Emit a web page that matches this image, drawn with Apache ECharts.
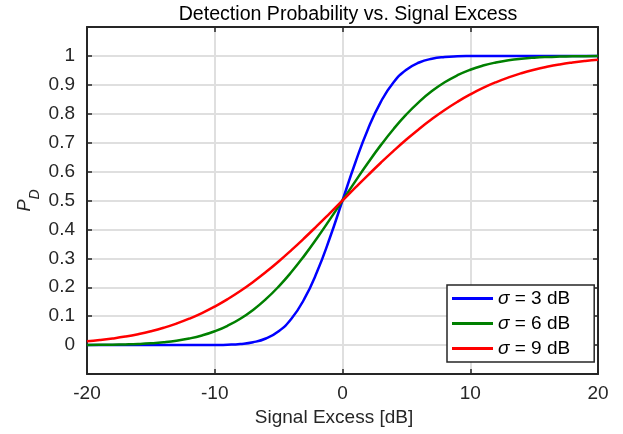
<!DOCTYPE html>
<html>
<head>
<meta charset="utf-8">
<script src="https://cdn.jsdelivr.net/npm/echarts@6/dist/echarts.min.js"></script>
<style>html,body{margin:0;padding:0;background:#fff}#c{width:623px;height:434px}</style>
</head>
<body>
<div id="c"></div>
<script>
// Signal excess [dB], -20..20 step 1
const signalExcess = [-20,-19,-18,-17,-16,-15,-14,-13,-12,-11,-10,-9,-8,-7,-6,-5,-4,-3,-2,-1,0,1,2,3,4,5,6,7,8,9,10,11,12,13,14,15,16,17,18,19,20];
const pdSigma3 = [0,0,0,0,0,0,0,0,0,0.0001,0.0004,0.0013,0.0038,0.0098,0.0228,0.0478,0.0912,0.1587,0.2525,0.3694,0.5,0.6306,0.7475,0.8413,0.9088,0.9522,0.9772,0.9902,0.9962,0.9987,0.9996,0.9999,1,1,1,1,1,1,1,1,1];
const pdSigma6 = [0.0004,0.0008,0.0013,0.0023,0.0038,0.0062,0.0098,0.0151,0.0228,0.0334,0.0478,0.0668,0.0912,0.1217,0.1587,0.2023,0.2525,0.3085,0.3694,0.4338,0.5,0.5662,0.6306,0.6915,0.7475,0.7977,0.8413,0.8783,0.9088,0.9332,0.9522,0.9666,0.9772,0.9849,0.9902,0.9938,0.9962,0.9977,0.9987,0.9992,0.9996];
const pdSigma9 = [0.0131,0.0174,0.0228,0.0294,0.0377,0.0478,0.0599,0.0743,0.0912,0.1108,0.1333,0.1587,0.1870,0.2184,0.2525,0.2893,0.3284,0.3694,0.4121,0.4558,0.5,0.5442,0.5879,0.6306,0.6716,0.7107,0.7475,0.7816,0.8130,0.8413,0.8667,0.8892,0.9088,0.9257,0.9401,0.9522,0.9623,0.9706,0.9772,0.9826,0.9869];
const seriesNames = ['σ = 3 dB','σ = 6 dB','σ = 9 dB'];
const seriesColors = ['#0000ff','#008000','#ff0000'];
const xTicks = [-20,-10,0,10,20];
const yTickLabels = ['0','0.1','0.2','0.3','0.4','0.5','0.6','0.7','0.8','0.9','1'];

const FONT = '"Liberation Sans", Helvetica, Arial, sans-serif';
const AX = '#262626';
const FS = 19;
const chart = echarts.init(document.getElementById('c'));
const allData = [pdSigma3, pdSigma6, pdSigma9];
const series = allData.map((d, i) => ({
  name: seriesNames[i],
  type: 'line',
  data: signalExcess.map((x, k) => [x, d[k]]),
  symbol: 'none',
  smooth: 0.5,
  lineStyle: {color: seriesColors[i], width: 2.5},
  itemStyle: {color: seriesColors[i]},
  z: 3
}));
const commonAxisLine = {show: true, onZero: false, lineStyle: {color: AX, width: 2}};
const ticksIn = {show: true, inside: true, length: 5, lineStyle: {color: AX, width: 1.5}};
chart.setOption({
  animation: false,
  backgroundColor: '#fff',
  textStyle: {fontFamily: FONT},
  title: {
    text: 'Detection Probability vs. Signal Excess',
    left: 343, top: 0, textAlign: 'center',
    textStyle: {fontFamily: FONT, fontSize: 19.6, fontWeight: 'normal', color: '#000'}
  },
  grid: {left: 87, right: 25, top: 27, bottom: 60, containLabel: false},
  legend: {
    orient: 'vertical', left: 447, top: 285,
    padding: [4, 24, 4, 5], itemGap: 6, itemWidth: 41, itemHeight: 3,
    icon: 'rect',
    backgroundColor: '#fff', borderColor: AX, borderWidth: 1.5,
    data: seriesNames,
    formatter: n => n.replace('σ', '{i|σ}'),
    textStyle: {fontFamily: FONT, fontSize: FS, color: '#000',
      rich: {i: {fontFamily: FONT, fontSize: FS, fontStyle: 'italic', color: '#000'}}}
  },
  xAxis: [{
    type: 'value', min: xTicks[0], max: xTicks[xTicks.length - 1], interval: 10,
    name: 'Signal Excess [dB]', nameLocation: 'middle', nameGap: 33,
    nameTextStyle: {fontFamily: FONT, fontSize: FS, color: AX, padding: [0, 17, 0, 0]},
    axisLine: commonAxisLine, axisTick: ticksIn,
    axisLabel: {fontFamily: FONT, fontSize: FS, color: AX, margin: 10},
    splitLine: {show: true, lineStyle: {color: '#dfdfdf', width: 2}}
  }, {
    type: 'value', position: 'top', min: xTicks[0], max: xTicks[xTicks.length - 1], interval: 10,
    axisLine: commonAxisLine, axisTick: ticksIn, axisLabel: {show: false}, splitLine: {show: false}
  }],
  yAxis: [{
    type: 'value', min: -0.1, max: 1.1, interval: 0.1,
    name: '{p|P}{d|D}', nameLocation: 'middle', nameGap: 45, nameRotate: 90,
    nameMoveOverlap: false,
    nameTextStyle: {rich: {
      p: {fontFamily: FONT, fontSize: 18, fontStyle: 'italic', color: AX},
      d: {fontFamily: FONT, fontSize: 14, fontStyle: 'italic', color: AX, padding: [21, 0, 0, 0]}
    }},
    axisLine: commonAxisLine, axisTick: ticksIn,
    axisLabel: {fontFamily: FONT, fontSize: FS, color: AX, margin: 12,
      formatter: v => { const r = Math.round(v * 10); return (r >= 0 && r <= 10) ? yTickLabels[r] : ''; }},
    splitLine: {show: true, lineStyle: {color: '#dfdfdf', width: 2}}
  }, {
    type: 'value', position: 'right', min: -0.1, max: 1.1, interval: 0.1,
    axisLine: commonAxisLine, axisTick: ticksIn, axisLabel: {show: false}, splitLine: {show: false}
  }],
  series: series
});
</script>
</body>
</html>
